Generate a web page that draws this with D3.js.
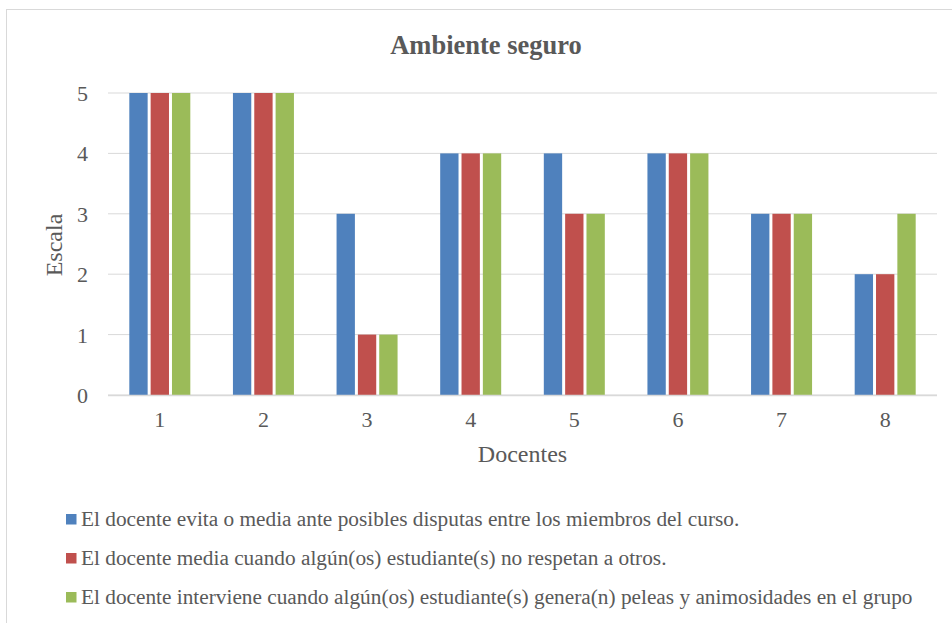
<!DOCTYPE html>
<html><head><meta charset="utf-8">
<script src="https://cdn.jsdelivr.net/npm/d3@7"></script>
<style>body{margin:0;background:#fff;} svg{display:block;} text{font-family:"Liberation Serif","Times New Roman",Tinos,"DejaVu Serif",serif;}</style>
</head><body>
<svg id="c" width="952" height="623"></svg>
<script>
const categories = ["1","2","3","4","5","6","7","8"];
const seriesNames = [
  "El docente evita o media ante posibles disputas entre los miembros del curso.",
  "El docente media cuando algún(os) estudiante(s) no respetan a otros.",
  "El docente interviene cuando algún(os) estudiante(s) genera(n) peleas y animosidades en el grupo"
];
const seriesA = [5,5,3,4,4,4,3,2];
const seriesB = [5,5,1,4,3,4,3,2];
const seriesC = [5,5,1,4,3,4,3,3];
const yTicks = [0,1,2,3,4,5];
const colors = ["#4F81BD","#C0504D","#9BBB59"];
const series = [seriesA, seriesB, seriesC];

const svg = d3.select("#c");
const txt = "#595959";

// chart border
svg.append("rect").attr("x",6.5).attr("y",9.5).attr("width",960).attr("height",640)
  .attr("fill","#fff").attr("stroke","#d9d9d9").attr("stroke-width",1);

const L=108, R=937, T=93, B=395;
const x = d3.scaleBand().domain(categories).range([L,R]);
const y = d3.scaleLinear().domain([0,5]).range([B,T]);
const groupW = 64;
const xs = d3.scaleBand().domain([0,1,2]).range([0,groupW]);

// gridlines
svg.append("g").selectAll("line").data(yTicks).join("line")
  .attr("x1",L).attr("x2",R).attr("y1",d=>y(d)).attr("y2",d=>y(d))
  .attr("stroke","#d9d9d9").attr("stroke-width",1);

// bars
series.forEach((s,si)=>{
  svg.append("g").selectAll("rect").data(s).join("rect")
    .attr("x",(d,i)=>x(categories[i]) + (x.bandwidth()-groupW)/2 + xs(si) + 1.5)
    .attr("width",xs.bandwidth()-3)
    .attr("y",d=>y(d)).attr("height",d=>y(0)-y(d))
    .attr("fill",colors[si]);
});
// axis baseline
svg.append("line").attr("x1",L).attr("x2",R).attr("y1",y(0)+0.5).attr("y2",y(0)+0.5)
  .attr("stroke","#d9d9d9").attr("stroke-width",1.5);

// y tick labels
svg.append("g").selectAll("text").data(yTicks).join("text")
  .attr("x",88).attr("y",d=>y(d)).attr("dy","0.36em").attr("text-anchor","end")
  .attr("font-size",22).attr("fill",txt).text(d=>d);

// x tick labels
svg.append("g").selectAll("text").data(categories).join("text")
  .attr("x",d=>x(d)+x.bandwidth()/2).attr("y",427).attr("text-anchor","middle")
  .attr("font-size",22).attr("fill",txt).text(d=>d);

// title
svg.append("text").attr("x",486).attr("y",54).attr("text-anchor","middle")
  .attr("font-size",26.5).attr("font-weight","bold").attr("fill",txt)
  .text("Ambiente seguro");

// axis titles
svg.append("text").attr("transform","translate(62,245) rotate(-90)").attr("text-anchor","middle")
  .attr("font-size",24).attr("fill",txt).text("Escala");
svg.append("text").attr("x",522.5).attr("y",462).attr("text-anchor","middle")
  .attr("font-size",24).attr("fill",txt).text("Docentes");

// legend
const legY = [526,565,604];
const lg = svg.append("g").selectAll("g").data(seriesNames).join("g")
  .attr("transform",(d,i)=>`translate(66,${legY[i]})`);
lg.append("rect").attr("x",0).attr("y",-12).attr("width",10.5).attr("height",10.5)
  .attr("fill",(d,i)=>colors[i]);
lg.append("text").attr("x",15).attr("y",0).attr("font-size",21.3)
  .attr("fill",txt).text(d=>d);
</script>
</body></html>
